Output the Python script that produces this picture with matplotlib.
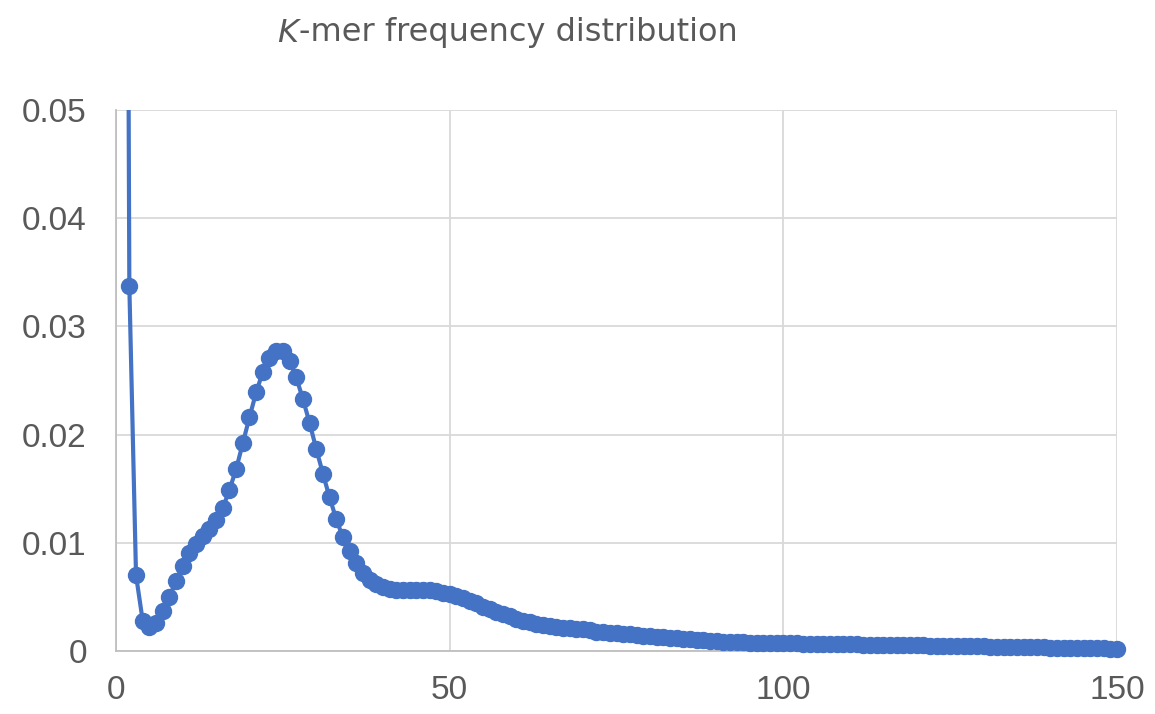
import matplotlib
matplotlib.use("Agg")
import matplotlib.pyplot as plt

# k-mer depth 1..150 and relative frequency
depth = list(range(1, 151))
freq = [
    0.19, 0.0337, 0.0070, 0.0028, 0.0022, 0.0026, 0.0037, 0.0050, 0.0065, 0.0079,
    0.0091, 0.0099, 0.0106, 0.0113, 0.0121, 0.0132, 0.0149, 0.0168, 0.0192, 0.0216,
    0.0239, 0.0258, 0.0271, 0.0277, 0.0277, 0.0268, 0.0253, 0.0233, 0.0211, 0.0187,
    0.0164, 0.0142, 0.0122, 0.0105, 0.0092, 0.0081, 0.0072, 0.0066, 0.0062, 0.0059,
    0.0057, 0.0056, 0.0056, 0.0056, 0.0056, 0.0056, 0.0056, 0.0055, 0.0054, 0.0053,
    0.0051, 0.0049, 0.0046, 0.0044, 0.0041, 0.0039, 0.0036, 0.0034, 0.0032, 0.0030,
    0.0028, 0.0027, 0.0025, 0.0024, 0.0023, 0.0022, 0.0021, 0.0021, 0.0020, 0.0020,
    0.0019, 0.0018, 0.0018, 0.0017, 0.0017, 0.0016, 0.0016, 0.0015, 0.0014, 0.0014,
    0.0013, 0.0013, 0.0012, 0.0012, 0.0011, 0.0011, 0.0010, 0.00098, 0.00094, 0.00090,
    0.00087, 0.00084, 0.00082, 0.00080, 0.00078, 0.00077, 0.00075, 0.00074, 0.00073, 0.00072,
    0.00071, 0.00070, 0.00069, 0.00068, 0.00067, 0.00066, 0.00065, 0.00064, 0.00063, 0.00062,
    0.00061, 0.00060, 0.00059, 0.00058, 0.00057, 0.00056, 0.00055, 0.00054, 0.00053, 0.00052,
    0.00051, 0.00050, 0.00049, 0.00048, 0.00047, 0.00046, 0.00045, 0.00044, 0.00043, 0.00042,
    0.00041, 0.00040, 0.00039, 0.00038, 0.00037, 0.00036, 0.00035, 0.00034, 0.00033, 0.00032,
    0.00031, 0.00030, 0.00029, 0.00028, 0.00027, 0.00026, 0.00025, 0.00024, 0.00023, 0.00022,
]

x_ticks = [0, 50, 100, 150]
y_ticks = [0, 0.01, 0.02, 0.03, 0.04, 0.05]
y_tick_labels = ["0", "0.01", "0.02", "0.03", "0.04", "0.05"]
title = "-mer frequency distribution"

blue = "#4472C4"
grey_text = "#595959"

fig = plt.figure(figsize=(11.55, 7.14), dpi=100)
ax = fig.add_axes([116 / 1155, 63 / 714, (1117 - 116) / 1155, (651 - 110) / 714])

ax.plot(depth, freq, color=blue, lw=3, zorder=3)
# markers: the first point is far above the axis, skip it so nothing leaks out
ax.plot(depth[1:], freq[1:], ls="none", marker="o", ms=11.5, color=blue,
        clip_on=False, zorder=4)

ax.set_xlim(0, 150)
ax.set_ylim(0, 0.05)
ax.set_xticks(x_ticks)
ax.set_xticklabels([str(t) for t in x_ticks])
ax.set_yticks(y_ticks)
ax.set_yticklabels(y_tick_labels)

ax.grid(True, color="#d9d9d9", lw=1.3)
ax.set_axisbelow(True)
for side in ["top", "right"]:
    ax.spines[side].set_visible(False)
for side in ["left", "bottom"]:
    ax.spines[side].set_color("#bfbfbf")
    ax.spines[side].set_linewidth(1.3)

ax.tick_params(length=0, labelsize=24, labelcolor=grey_text)
ax.tick_params(axis="y", pad=21)
ax.tick_params(axis="x", pad=17)
for lab in ax.get_xticklabels() + ax.get_yticklabels():
    lab.set_fontfamily("Liberation Sans")

# title: italic K followed by the rest
tK = fig.text(277 / 1155, 1 - 33 / 714, "K", fontsize=23, style="italic",
              color=grey_text, family="DejaVu Sans", va="center", ha="left")
fig.canvas.draw()
bb = tK.get_window_extent()
fig.text((bb.x1 + 1) / 1155, 1 - 33 / 714, title, fontsize=23,
         color=grey_text, family="DejaVu Sans", va="center", ha="left")

fig.savefig("out.png", dpi=100)
